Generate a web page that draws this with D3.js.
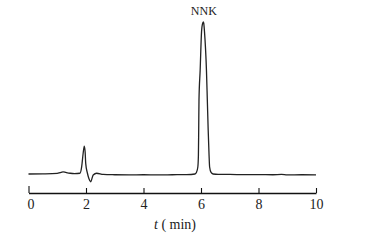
<!DOCTYPE html>
<html>
<head>
<meta charset="utf-8">
<script src="https://cdn.jsdelivr.net/npm/d3@7"></script>
<style>
  body { margin: 0; background: #fff; }
  svg { display: block; }
</style>
</head>
<body>
<svg id="chart" width="390" height="246"></svg>
<script>
// chromatogram trace (time in min, detector response arbitrary)
const times = [0, 0.5, 1.0, 1.1, 1.2, 1.3, 1.45, 1.6, 1.79, 1.85, 1.9, 1.94, 1.97, 1.99, 2.05, 2.1, 2.16, 2.25, 2.37,
  2.6, 3.0, 3.5, 4.0, 4.5, 5.0, 5.5, 5.79, 5.84, 5.89, 5.91, 5.92, 5.93, 5.97, 6.02, 6.05, 6.08, 6.095, 6.12, 6.19, 6.22,
  6.25, 6.28, 6.30, 6.35, 6.42, 6.6, 7.0, 7.5, 8.0, 8.5, 8.8, 9.0, 9.5, 10.0];
const signal = [0, 0.1, 0.4, 0.9, 1.4, 1.0, 0.5, 0.3, 0.5, 4.8, 13.5, 18.4, 14.5, 7.0, 0.5, -3.0, -5.1, -0.7, 0.5,
  -0.3, -0.5, -0.6, -0.5, -0.6, -0.5, -0.4, 0, 1, 4.6, 12.5, 29, 48.7, 68, 94, 98.6, 100, 99.3, 94, 68, 48.7,
  29, 12.5, 4.6, 1, 0, -0.3, -0.3, -0.4, -0.4, -0.5, -0.3, -0.6, -0.5, -0.6];
const xTicks = [0, 2, 4, 6, 8, 10];
const peakLabel = { name: "NNK", t: 6.08, v: 100 };

const svg = d3.select("#chart");
const trace = times.map((t, i) => ({ t: t, v: signal[i] }));

const x = d3.scaleLinear().domain([0, 10]).range([28.5, 316]);
const y = d3.scaleLinear().domain([-10, 100]).range([189.2, 22]);

const line = d3.line()
    .x(d => x(d.t))
    .y(d => y(d.v))
    .curve(d3.curveMonotoneX);

svg.append("path")
    .datum(trace)
    .attr("d", line)
    .attr("fill", "none")
    .attr("stroke", "#222")
    .attr("stroke-width", 1.3)
    .attr("stroke-linejoin", "round");

// bottom axis with ticks pointing up
const axisY = 193;
const axis = svg.append("g")
    .attr("transform", `translate(0, ${axisY})`)
    .call(d3.axisBottom(x).tickValues(xTicks).tickSize(-5).tickSizeOuter(0));

axis.select(".domain").attr("stroke", "#111").attr("stroke-width", 1.4);
axis.selectAll(".tick line").attr("stroke", "#111").attr("stroke-width", 1.1)
    .attr("y2", d => d === 0 ? -7 : -5);
axis.selectAll(".tick text")
    .attr("y", 16)
    .attr("dy", null)
    .attr("dx", d => d === 0 ? 2 : 0)
    .attr("fill", "#222")
    .style("font-family", "'Liberation Serif', 'DejaVu Serif', serif")
    .style("font-size", "14px");

const title = svg.append("text")
    .attr("x", 175)
    .attr("y", 229)
    .attr("text-anchor", "middle")
    .attr("fill", "#222")
    .style("font-family", "'Liberation Serif', 'DejaVu Serif', serif")
    .style("font-size", "14px");
title.append("tspan").style("font-style", "italic").text("t");
title.append("tspan").text(" ( min)");

svg.append("text")
    .attr("x", x(peakLabel.t) + 0.5)
    .attr("y", 15)
    .attr("text-anchor", "middle")
    .attr("fill", "#222")
    .style("font-family", "'Liberation Serif', 'DejaVu Serif', serif")
    .style("font-size", "12px")
    .text(peakLabel.name);
</script>
</body>
</html>
